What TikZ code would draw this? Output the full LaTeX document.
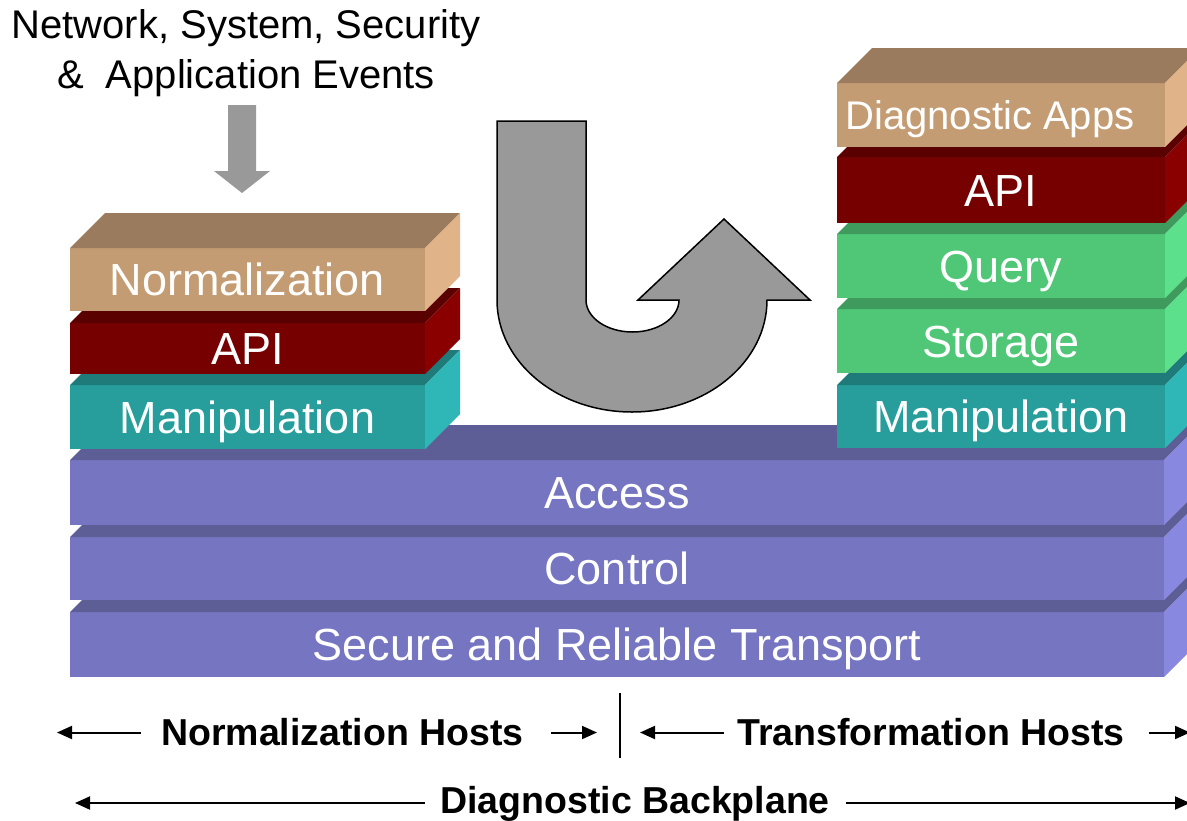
\documentclass[tikz,border=0pt]{standalone}
\usepackage{fontspec}
\setmainfont{Liberation Sans}
\usetikzlibrary{arrows.meta}

\definecolor{tanF}{HTML}{C49C74}
\definecolor{tanT}{HTML}{9A7B5E}
\definecolor{tanS}{HTML}{E0B488}
\definecolor{redF}{HTML}{760000}
\definecolor{redT}{HTML}{5A0000}
\definecolor{redS}{HTML}{8A0000}
\definecolor{tealF}{HTML}{279E9C}
\definecolor{tealT}{HTML}{1F7B7A}
\definecolor{tealS}{HTML}{2FB7B7}
\definecolor{greenF}{HTML}{4FC777}
\definecolor{greenT}{HTML}{3F9A5E}
\definecolor{greenS}{HTML}{5DE08B}
\definecolor{purpF}{HTML}{7575C1}
\definecolor{purpT}{HTML}{5E5E96}
\definecolor{purpS}{HTML}{8888E0}
\definecolor{arrowgray}{HTML}{999999}

\tikzset{
  layer/.style={inner sep=0pt, outer sep=0pt, anchor=north west, text=white,
    font=\fontsize{45pt}{48pt}\selectfont, text height=32.2pt, text depth=0pt},
  plainlayer/.style={},
  smalllayer/.style={font=\fontsize{40pt}{44pt}\selectfont, text height=28.6pt,
    execute at begin node={\hspace*{-22pt}}},
  evtlabel/.style={inner sep=0pt, anchor=base, font=\fontsize{40pt}{44pt}\selectfont},
  hostlabel/.style={inner sep=0pt, font=\bfseries\fontsize{37.5pt}{40pt}\selectfont,
    text height=26.8pt, text depth=0pt},
  hostarrow/.style={line width=2pt, -{Triangle[length=15pt,width=13pt]}},
}

\begin{document}
\begin{tikzpicture}[x=1pt,y=-1pt]
    \useasboundingbox (0,0) rectangle (1187,820);
    \clip (0,0) rectangle (1187,820);

    \foreach \nm/\xa/\ya/\w/\h/\cl/\st/\txt in {
      trans/70/612/1094/65/purp/plainlayer/Secure and Reliable Transport,
      ctrl/70/537/1094/63/purp/plainlayer/Control,
      access/70/460/1094/65/purp/plainlayer/Access,
      manL/70/385/355/64/teal/plainlayer/Manipulation,
      apiL/70/323/355/51/red/plainlayer/API,
      normL/70/248/355/63/tan/plainlayer/Normalization,
      manR/837/385/328/63/teal/plainlayer/Manipulation,
      storR/837/309/328/64/green/plainlayer/Storage,
      queryR/837/234/328/64/green/plainlayer/Query,
      apiR/837/157/328/66/red/plainlayer/API,
      appsR/837/83/328/64/tan/smalllayer/Diagnostic Apps}{
    \node[layer, \st, fill=\cl F, minimum width=\w pt, minimum height=\h pt] (\nm) at (\xa,\ya) {\txt};
    \fill[fill=\cl T] (\nm.north west) -- ++(35,-35) -- ++(\w,0) -- (\nm.north east) -- cycle;
    \fill[fill=\cl S] (\nm.north east) -- ++(35,-35) -- ++(0,\h) -- (\nm.south east) -- cycle;
    }

    \node[evtlabel] (evtA) at (246,38) {Network, System, Security};
    \node[evtlabel] (evtB) at (246,88) {\& \ Application Events};
    \fill[arrowgray] (228,105) -- (256,105) -- (256,171) -- (270,171) -- (242,193) -- (214,171) -- (228,171) -- cycle;

    \draw[fill=arrowgray, line width=1.5pt] (497,121) -- (586,121) -- (586,300)
      arc[start angle=180, end angle=0, x radius=46.5, y radius=32] -- (638,300) -- (724,219) -- (810,300) -- (767,300)
      arc[start angle=0, end angle=180, x radius=135, y radius=112] -- cycle;

    \node[hostlabel] (nhosts) at (342.5,732.5) {Normalization Hosts};
    \node[hostlabel] (thosts) at (931,732.5) {Transformation Hosts};
    \node[hostlabel] (backplane) at (635,800) {Diagnostic Backplane};
    \coordinate (nhostsL) at (57,732.5);
    \coordinate (nhostsR) at (597,732.5);
    \coordinate (thostsL) at (640,732.5);
    \coordinate (thostsR) at (1190,732.5);
    \coordinate (backL) at (75,803);
    \coordinate (backR) at (1190,803);
    \coordinate (splitT) at (620,693);
    \coordinate (splitB) at (620,758);

    \draw[hostarrow] ([xshift=-20pt]nhosts.west) -- (nhostsL);
    \draw[hostarrow] ([xshift=27pt]nhosts.east) -- (nhostsR);
    \draw[hostarrow] ([xshift=-13pt]thosts.west) -- (thostsL);
    \draw[hostarrow] ([xshift=24pt]thosts.east) -- (thostsR);
    \draw[hostarrow] ([xshift=-15pt,yshift=-3pt]backplane.west) -- (backL);
    \draw[hostarrow] ([xshift=16pt,yshift=-3pt]backplane.east) -- (backR);
    \draw[line width=2pt] (splitT) -- (splitB);
\end{tikzpicture}
\end{document}
